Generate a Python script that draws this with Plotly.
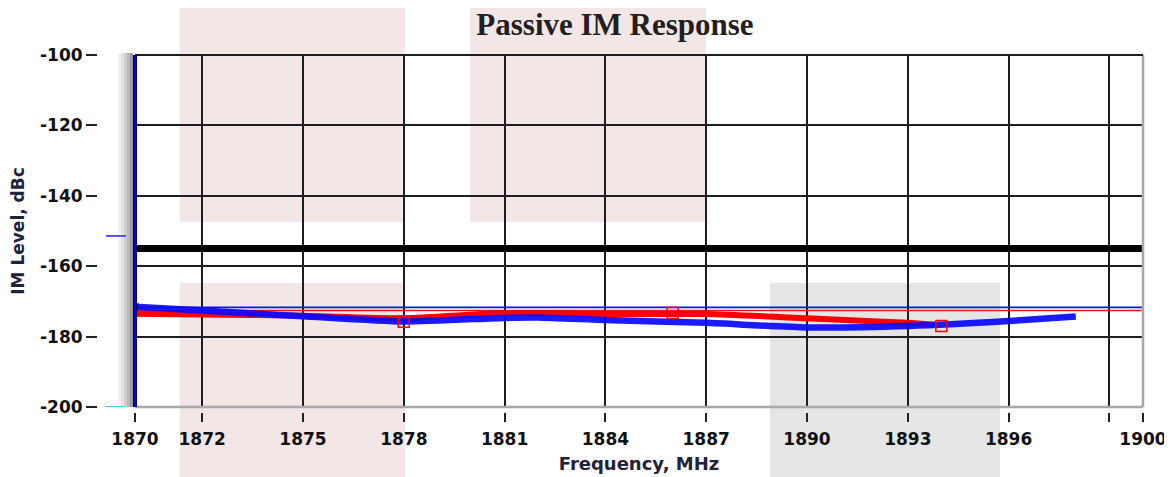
import plotly.graph_objects as go

# ---- data ----
x_tickvals = [1870, 1872, 1875, 1878, 1881, 1884, 1887, 1890, 1893, 1896, 1899, 1900]
x_ticktext = ['1870', '1872', '1875', '1878', '1881', '1884', '1887', '1890', '1893', '1896', '', '1900']
y_tickvals = [-100, -120, -140, -160, -180, -200]
y_ticktext = ['-100', '-120', '-140', '-160', '-180', '-200']

blue_freq = [1870, 1872, 1875, 1878, 1881, 1882, 1884, 1887, 1890, 1893, 1896, 1898]
blue_level = [-171.5, -172.6, -174.2, -175.7, -174.7, -174.6, -175.3, -176.1, -177.4, -177.0, -175.6, -174.3]

red_freq = [1870, 1872, 1875, 1878, 1881, 1884, 1887, 1890, 1893, 1893.8]
red_level = [-173.5, -173.7, -174.1, -174.8, -173.3, -173.6, -173.6, -174.8, -176.1, -176.6]

red_mark_freq = [1878, 1886, 1894]
red_mark_level = [-175.8, -173.3, -177.0]

limit_freq = [1870, 1900]
limit_level = [-155, -155]
blue_ref_level = [-171.7, -171.7]
red_ref_level = [-172.6, -172.6]

# ---- layout geometry (page body has an 8px offset) ----
OX, OY = 8, 8
W, H = 1172, 477
ML, MR, MT, MB = 20, 37, 47, 40
PW, PH = W - ML - MR, H - MT - MB


def px(xs):
    return (xs - OX - ML) / PW


def py(ys):
    return (H - MB - (ys - OY)) / PH


fig = go.Figure()

fig.add_trace(go.Scatter(x=limit_freq, y=limit_level, mode='lines',
                         line=dict(color='#000000', width=7), showlegend=False))
fig.add_trace(go.Scatter(x=limit_freq, y=blue_ref_level, mode='lines',
                         line=dict(color='#1010ff', width=1.6), showlegend=False))
fig.add_trace(go.Scatter(x=limit_freq, y=red_ref_level, mode='lines',
                         line=dict(color='#ff1010', width=1.6), showlegend=False))
fig.add_trace(go.Scatter(x=red_freq, y=red_level, mode='lines',
                         line=dict(color='#ff0000', width=6, shape='spline', smoothing=0.6),
                         showlegend=False))
fig.add_trace(go.Scatter(x=blue_freq, y=blue_level, mode='lines',
                         line=dict(color='#0a0aff', width=6.5, shape='spline', smoothing=0.6),
                         opacity=0.93, showlegend=False))
fig.add_trace(go.Scatter(x=red_mark_freq, y=red_mark_level, mode='markers',
                         marker=dict(symbol='square-open', size=11, color='#ff0000',
                                     line=dict(width=1.5, color='#ff0000')),
                         showlegend=False))
fig.add_trace(go.Scatter(x=[red_freq[0]], y=[red_level[0]], mode='markers',
                         marker=dict(symbol='square', size=7, color='#ff0000'), showlegend=False))
fig.add_trace(go.Scatter(x=[blue_freq[0]], y=[blue_level[0]], mode='markers',
                         marker=dict(symbol='square', size=7, color='#0000ff'), showlegend=False))

shapes = []
# decorative background panels
pink = 'rgb(243,230,230)'
gray = 'rgb(229,229,229)'
for (x0, y0, x1, y1, c) in [(180, 0, 405, 222, pink), (470, 0, 706, 222, pink),
                            (180, 283, 405, 485, pink), (770, 283, 1000, 485, gray)]:
    shapes.append(dict(type='rect', xref='paper', yref='paper', x0=px(x0), x1=px(x1),
                       y0=py(y1), y1=py(y0), fillcolor=c, line=dict(width=0), layer='below'))
# shadow left of the axis
for i, c in enumerate(['#f2f2f2', '#e2e2e2', '#cfcfcf', '#b8b8b8', '#9c9c9c']):
    shapes.append(dict(type='rect', xref='paper', yref='paper', x0=px(118 + 3 * i), x1=px(121 + 3 * i),
                       y0=py(407), y1=py(53), fillcolor=c, line=dict(width=0), layer='below'))
# plot borders
shapes.append(dict(type='line', xref='x domain', yref='y domain', x0=0, x1=1, y0=0, y1=0,
                   line=dict(color='#a8a8a8', width=2.5), layer='above'))
shapes.append(dict(type='line', xref='x domain', yref='y domain', x0=1, x1=1, y0=0, y1=1,
                   line=dict(color='#a8a8a8', width=2.5), layer='above'))
shapes.append(dict(type='line', xref='x domain', yref='y domain', x0=0, x1=1, y0=1, y1=1,
                   line=dict(color='#1e1e1e', width=2), layer='above'))
shapes.append(dict(type='line', xref='x domain', yref='y domain', x0=0, x1=0, y0=0, y1=1,
                   line=dict(color='#000000', width=4), layer='above'))
shapes.append(dict(type='line', xref='x domain', yref='y domain', x0=0, x1=0, y0=0, y1=1,
                   line=dict(color='#0000ff', width=2.5), layer='above'))
# small level markers left of the axis
shapes.append(dict(type='line', xref='paper', yref='y', x0=px(106), x1=px(126), y0=-151.4, y1=-151.4,
                   line=dict(color='#2020ff', width=1.5)))
shapes.append(dict(type='line', xref='paper', yref='y', x0=px(105), x1=px(125), y0=-200, y1=-200,
                   line=dict(color='#20e0f0', width=2)))

tickfont = dict(family='DejaVu Sans', size=17, color='#111111', weight='bold')

fig.update_layout(
    width=W, height=H,
    margin=dict(l=ML, r=MR, t=MT, b=MB, autoexpand=False),
    paper_bgcolor='white', plot_bgcolor='rgba(0,0,0,0)',
    title=dict(text='Passive IM Response', x=(615 - OX) / W, xanchor='center',
               y=1 - (24 - OY) / H, yanchor='middle', automargin=False,
               font=dict(family='Liberation Serif', size=31, color='#231f20', weight='bold')),
    xaxis=dict(domain=[px(135), 1], anchor='free', position=py(412), range=[1870, 1900],
               automargin=False,
               tickmode='array', tickvals=x_tickvals, ticktext=x_ticktext,
               ticks='outside', ticklen=9, tickwidth=2, tickcolor='#222222', ticklabelstandoff=3,
               showgrid=True, gridcolor='#1e1e1e', gridwidth=2, zeroline=False, showline=False,
               tickfont=tickfont,
               title=dict(text='Frequency, MHz', standoff=8,
                          font=dict(family='DejaVu Sans', size=18, color='#22223a', weight='bold'))),
    yaxis=dict(domain=[py(407), 1], anchor='free', position=px(97), range=[-200, -100],
               automargin=False,
               tickmode='array', tickvals=y_tickvals, ticktext=y_ticktext,
               ticks='outside', ticklen=11, tickwidth=2, tickcolor='#222222', ticklabelstandoff=0,
               showgrid=True, gridcolor='#1e1e1e', gridwidth=2, zeroline=False, showline=False,
               tickfont=tickfont,
               title=dict(text='IM Level, dBc', standoff=10,
                          font=dict(family='DejaVu Sans', size=17, color='#22223a', weight='bold'))),
    shapes=shapes,
)

fig.write_html('out.html')
